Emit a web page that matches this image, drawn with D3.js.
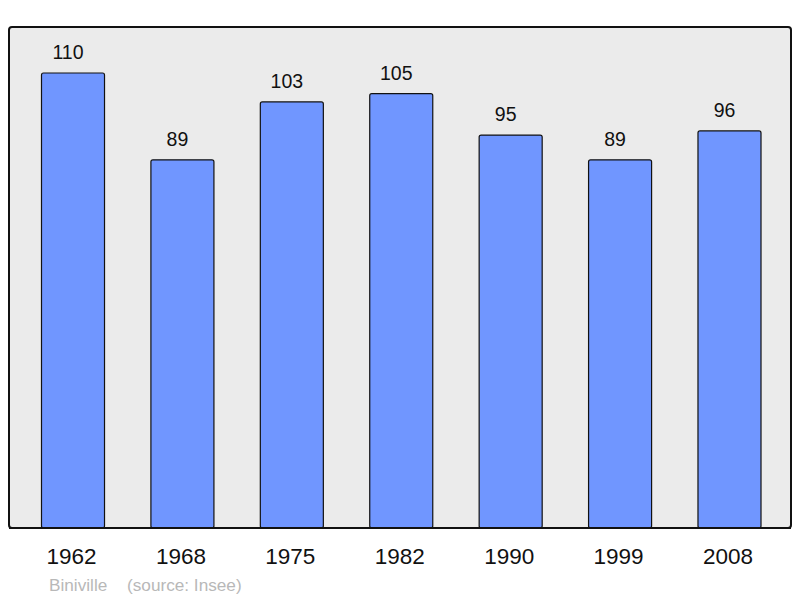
<!DOCTYPE html>
<html>
<head>
<meta charset="utf-8">
<script src="https://cdn.jsdelivr.net/npm/d3@7"></script>
<style>
  body { margin: 0; background: #fff; }
  text { font-family: "Liberation Sans", Arial, sans-serif; }
</style>
</head>
<body>
<div id="chart"></div>
<script>
const years = ["1962", "1968", "1975", "1982", "1990", "1999", "2008"];
const population = [110, 89, 103, 105, 95, 89, 96];
const town = "Biniville";
const source = "(source: Insee)";

const width = 800, height = 598;
const panel = { left: 9, top: 27, right: 791, bottom: 528 };

const svg = d3.select("#chart").append("svg")
    .attr("width", width)
    .attr("height", height);

/* grey panel */
svg.append("rect")
    .attr("x", panel.left)
    .attr("y", panel.top)
    .attr("width", panel.right - panel.left)
    .attr("height", panel.bottom - panel.top)
    .attr("rx", 3)
    .attr("fill", "#ebebeb")
    .attr("stroke", "#111")
    .attr("stroke-width", 2);

const x = d3.scaleBand()
    .domain(years)
    .range([18.3, 784.2])
    .paddingInner(0.424)
    .paddingOuter(0.212);

const y = d3.scaleLinear()
    .domain([0, 110])
    .range([panel.bottom, 73]);

const data = years.map((yr, i) => ({ year: yr, value: population[i] }));

svg.selectAll("rect.bar").data(data).enter()
    .append("rect")
    .attr("class", "bar")
    .attr("x", d => x(d.year))
    .attr("y", d => y(d.value))
    .attr("width", x.bandwidth())
    .attr("height", d => y(0) - y(d.value))
    .attr("rx", 2)
    .attr("fill", "#7096ff")
    .attr("stroke", "#111")
    .attr("stroke-width", 1.2);

/* value labels */
svg.selectAll("text.val").data(data).enter()
    .append("text")
    .attr("class", "val")
    .attr("x", d => x(d.year) + x.bandwidth() / 2 - 5)
    .attr("y", d => y(d.value) - 14)
    .attr("text-anchor", "middle")
    .attr("font-size", 19.5)
    .attr("fill", "#111")
    .text(d => d.value);

/* bottom edge of panel on top of bars */
svg.append("line")
    .attr("x1", panel.left).attr("x2", panel.right)
    .attr("y1", panel.bottom).attr("y2", panel.bottom)
    .attr("stroke", "#111").attr("stroke-width", 2);

/* year labels */
const xAxis = d3.axisBottom(x).tickSize(0).tickPadding(0);
const xAxisG = svg.append("g")
    .attr("transform", "translate(-1.5," + 548.5 + ")")
    .call(xAxis);
xAxisG.select(".domain").remove();
xAxisG.selectAll("text")
    .attr("font-size", 22.5)
    .attr("font-family", "Liberation Sans, Arial, sans-serif")
    .attr("fill", "#111");

/* footer */
svg.append("text")
    .attr("x", 49).attr("y", 590.5)
    .attr("font-size", 17.2)
    .attr("fill", "#b8b8b8")
    .text(town);
svg.append("text")
    .attr("x", 127).attr("y", 590.5)
    .attr("font-size", 17.2)
    .attr("fill", "#b8b8b8")
    .text(source);
</script>
</body>
</html>
